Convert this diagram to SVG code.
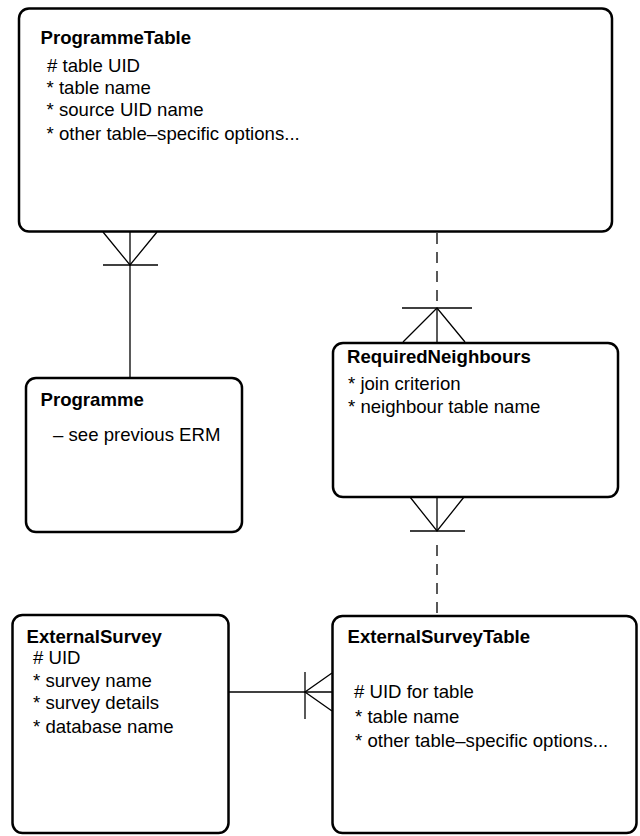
<svg xmlns="http://www.w3.org/2000/svg" width="640" height="836" viewBox="0 0 640 836">
<style>
.box{fill:#fff;stroke:#000;stroke-width:2.5}
.t{font-family:"Liberation Sans",Arial,sans-serif;font-size:18.6px;font-weight:bold;fill:#000}
.a{font-family:"Liberation Sans",Arial,sans-serif;font-size:18.6px;fill:#000}
.c{fill:none;stroke:#000;stroke-width:1.3}
.d{fill:none;stroke:#000;stroke-width:1.3;stroke-dasharray:11,8}
</style>
<rect width="640" height="836" fill="#fff"/>
<g id="connectors">
<line class="c" x1="130" y1="232" x2="130" y2="377"/>
<polyline class="c" points="103,232 130,265 157,232"/>
<line class="c" x1="103" y1="265" x2="158" y2="265"/>
<line class="d" x1="437" y1="233" x2="437" y2="308"/>
<line class="c" x1="437" y1="308" x2="437" y2="342"/>
<line class="c" x1="402" y1="308" x2="472" y2="308"/>
<polyline class="c" points="403,342 437,308 465,342"/>
<line class="c" x1="437" y1="497" x2="437" y2="531"/>
<polyline class="c" points="410,497 437,531 464,497"/>
<line class="c" x1="410" y1="531" x2="465" y2="531"/>
<line class="d" x1="437" y1="545" x2="437" y2="615"/>
<line class="c" x1="228" y1="692" x2="332" y2="692"/>
<line class="c" x1="305" y1="672" x2="305" y2="719"/>
<polyline class="c" points="332,673 305,692 332,711"/>
</g>
<g id="ProgrammeTable">
<rect class="box" x="19" y="8.5" width="593" height="223" rx="10"/>
<text class="t" x="40.5" y="44">ProgrammeTable</text>
<text class="a" x="47" y="72"># table UID</text>
<text class="a" x="46.5" y="94">* table name</text>
<text class="a" x="46.5" y="116">* source UID name</text>
<text class="a" x="46.5" y="139.5">* other table–specific options...</text>
</g>
<g id="Programme">
<rect class="box" x="26" y="378" width="216" height="154" rx="10"/>
<text class="t" x="40.5" y="406">Programme</text>
<text class="a" x="53" y="441">– see previous ERM</text>
</g>
<g id="RequiredNeighbours">
<rect class="box" x="333" y="343" width="285" height="154" rx="10"/>
<text class="t" x="347" y="363">RequiredNeighbours</text>
<text class="a" x="348" y="390">* join criterion</text>
<text class="a" x="348" y="413">* neighbour table name</text>
</g>
<g id="ExternalSurvey">
<rect class="box" x="12.5" y="615" width="216" height="218" rx="10"/>
<text class="t" x="26.5" y="643">ExternalSurvey</text>
<text class="a" x="33" y="664"># UID</text>
<text class="a" x="33" y="687">* survey name</text>
<text class="a" x="33" y="709">* survey details</text>
<text class="a" x="33" y="733">* database name</text>
</g>
<g id="ExternalSurveyTable">
<rect class="box" x="332.5" y="616" width="304" height="217" rx="10"/>
<text class="t" x="347.5" y="643">ExternalSurveyTable</text>
<text class="a" x="354" y="698"># UID for table</text>
<text class="a" x="355" y="723">* table name</text>
<text class="a" x="355" y="747">* other table–specific options...</text>
</g>
</svg>
